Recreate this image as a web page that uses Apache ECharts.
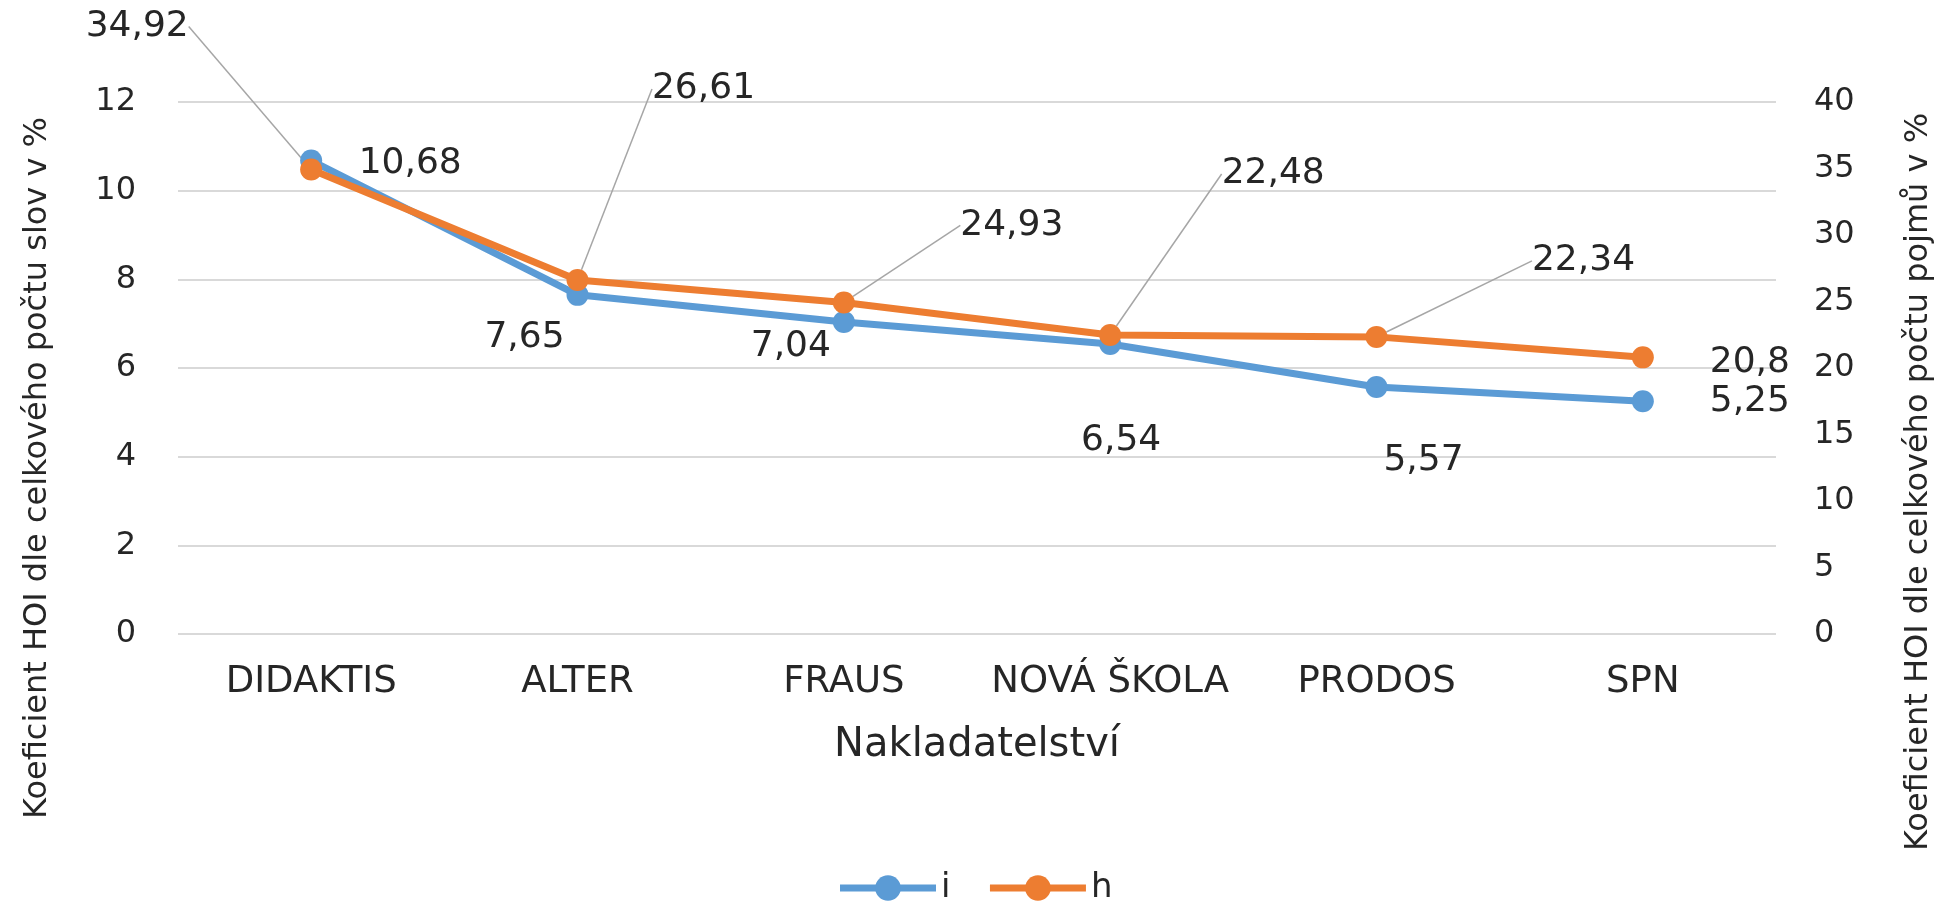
<!DOCTYPE html>
<html>
<head>
<meta charset="utf-8">
<title>Koeficient HOI</title>
<script src="https://cdn.jsdelivr.net/npm/echarts@6/dist/echarts.min.js"></script>
<style>
    html, body {margin: 0; padding: 0; background: #fff;}
    #hoi-chart {width: 1949px; height: 909px;}
</style>
</head>
<body>
<div id="hoi-chart"></div>
<script>
// data
var categories = ['DIDAKTIS', 'ALTER', 'FRAUS', 'NOVÁ ŠKOLA', 'PRODOS', 'SPN'];
var valuesI = [10.68, 7.65, 7.04, 6.54, 5.57, 5.25];
var valuesH = [34.92, 26.61, 24.93, 22.48, 22.34, 20.8];
var seriesNames = ['i', 'h'];

// where the labels sit relative to the point (px)
var shiftI = [[99, 3], [-53, 43], [-53, 25], [11, 97], [47, 74], [107, 0]];
var shiftH = [[-174, -143], [126, -191], [168, -77], [163, -161], [207, -76], [107, 5]];

var textColor = '#262626';
var fontName = 'DejaVu Sans';

function fmtComma(params) {
    return String(params.value).replace('.', ',');
}

function buildH() {
    var out = [];
    for (var i = 0; i < valuesH.length; i++) {
        var item = {value: valuesH[i]};
        if (i === valuesH.length - 1) {
            item.labelLine = {show: false};
        }
        out.push(item);
    }
    return out;
}

function initChart() {
    var chart = echarts.init(document.getElementById('hoi-chart'));
    var option = {
        animation: false,
        color: ['#5B9BD5', '#ED7D31'],
        textStyle: {fontFamily: fontName, color: textColor},
        grid: {left: 178, right: 173, top: 102, bottom: 275},
        legend: {
            data: seriesNames,
            top: 866,
            left: 'center',
            itemWidth: 96,
            itemHeight: 32,
            itemGap: 36,
            lineStyle: {width: 7},
            textStyle: {fontSize: 34, color: textColor, fontFamily: fontName}
        },
        xAxis: {
            type: 'category',
            data: categories,
            boundaryGap: true,
            axisLine: {show: false},
            axisTick: {show: false},
            axisLabel: {interval: 0, fontSize: 37, color: textColor, margin: 30, fontFamily: fontName},
            name: 'Nakladatelství',
            nameLocation: 'middle',
            nameGap: 92,
            nameTextStyle: {fontSize: 40, color: textColor, fontFamily: fontName}
        },
        yAxis: [{
            type: 'value',
            min: 0,
            max: 12,
            interval: 2,
            axisLine: {show: false},
            axisTick: {show: false},
            axisLabel: {fontSize: 32, color: textColor, margin: 42, fontFamily: fontName},
            splitLine: {lineStyle: {color: '#d9d9d9', width: 2}},
            name: 'Koeficient HOI dle celkového počtu slov v %',
            nameLocation: 'middle',
            nameRotate: 90,
            nameGap: 124,
            nameTextStyle: {fontSize: 32, color: textColor, fontFamily: fontName, padding: [0, 200, 0, 0]}
        }, {
            type: 'value',
            min: 0,
            max: 40,
            interval: 5,
            axisLine: {show: false},
            axisTick: {show: false},
            splitLine: {show: false},
            axisLabel: {fontSize: 32, color: textColor, margin: 38, fontFamily: fontName},
            name: 'Koeficient HOI dle celkového počtu pojmů v %',
            nameLocation: 'middle',
            nameRotate: 90,
            nameGap: 127,
            nameTextStyle: {fontSize: 32, color: textColor, fontFamily: fontName, padding: [0, 228, 0, 0]}
        }],
        series: [{
            name: 'i',
            type: 'line',
            yAxisIndex: 0,
            data: valuesI,
            symbol: 'circle',
            symbolSize: 22,
            lineStyle: {width: 7},
            label: {
                show: true,
                position: 'inside',
                formatter: fmtComma,
                fontSize: 36,
                color: textColor,
                fontFamily: fontName
            },
            labelLine: {show: false},
            labelLayout: function (params) {
                var d = shiftI[params.dataIndex];
                return {dx: d[0], dy: d[1]};
            }
        }, {
            name: 'h',
            type: 'line',
            yAxisIndex: 1,
            data: buildH(),
            symbol: 'circle',
            symbolSize: 22,
            lineStyle: {width: 7},
            label: {
                show: true,
                position: 'inside',
                formatter: fmtComma,
                fontSize: 36,
                color: textColor,
                fontFamily: fontName
            },
            labelLine: {show: true, lineStyle: {color: '#a6a6a6', width: 1.5}},
            labelLayout: function (params) {
                var d = shiftH[params.dataIndex];
                return {dx: d[0], dy: d[1]};
            }
        }]
    };
    chart.setOption(option);
}

initChart();
</script>
</body>
</html>
